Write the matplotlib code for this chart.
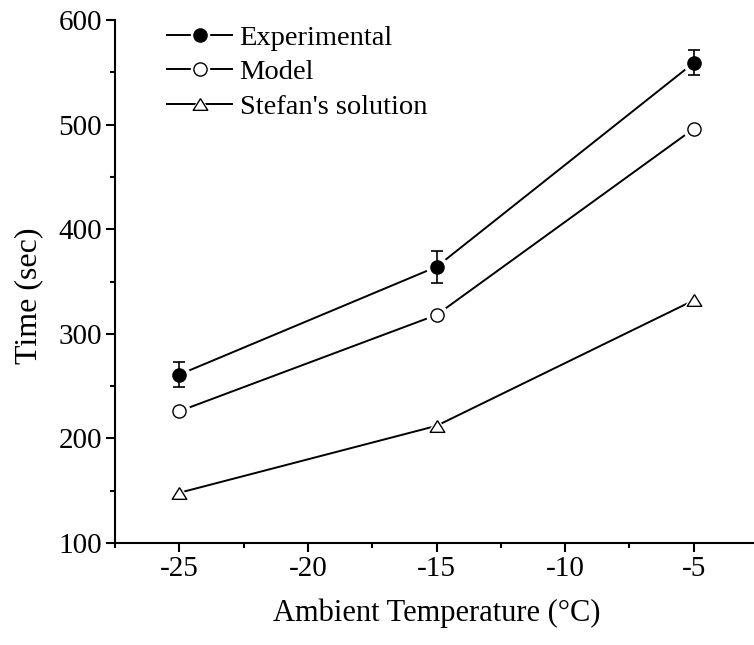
import matplotlib
matplotlib.use("Agg")
import matplotlib.pyplot as plt
from matplotlib.lines import Line2D
from matplotlib.ticker import MultipleLocator
from matplotlib.legend_handler import HandlerTuple

plt.rcParams['font.family'] = ['Liberation Serif', 'DejaVu Serif']
plt.rcParams['axes.unicode_minus'] = False

temperature = [-25, -15, -5]
experimental = [261, 364, 559]
experimental_err = [12, 15, 12]
model = [226, 318, 496]
stefan = [148, 212, 332]

x_ticks = [-25, -20, -15, -10, -5]
y_ticks = [100, 200, 300, 400, 500, 600]

W, H = 754, 645
fig = plt.figure(figsize=(W / 100, H / 100), dpi=100)
ax = fig.add_axes([115 / W, 1 - 543 / H, (758 - 115) / W, (543 - 20) / H])

tri = [(0, 0.8), (-1, -0.8), (1, -0.8), (0, 0.8)]
lw = 1.4
ms = 9.5
halo_ms = 15

styles = [
    (experimental, 'o', 'black', ms),
    (model, 'o', 'white', ms),
    (stefan, tri, 'white', 10.5),
]
labels = ["Experimental", "Model", "Stefan's solution"]
handles = []
for (vals, mk, fc, size), lab in zip(styles, labels):
    ax.plot(temperature, vals, color='black', lw=lw, zorder=2, clip_on=False)
    ax.plot(temperature, vals, ls='none', marker=mk, ms=halo_ms, mfc='white', mec='white', zorder=3, clip_on=False)
    ax.plot(temperature, vals, ls='none', marker=mk, ms=size, mfc=fc, mec='black', mew=1.0, zorder=5, clip_on=False)
    h_line = Line2D([], [], color='black', lw=lw)
    h_halo = Line2D([], [], ls='none', marker=mk, ms=halo_ms - 2, mfc='white', mec='white')
    h_mk = Line2D([], [], ls='none', marker=mk, ms=size, mfc=fc, mec='black', mew=1.0)
    handles.append((h_line, h_halo, h_mk))

ax.errorbar(temperature, experimental, yerr=experimental_err, fmt='none', ecolor='black',
            elinewidth=1.2, capsize=4, capthick=1.2, zorder=4)

ax.set_xlim(-27.5, -2.5)
ax.set_ylim(100, 600)
ax.set_xticks(x_ticks)
ax.set_yticks(y_ticks)
ax.xaxis.set_minor_locator(MultipleLocator(2.5))
ax.yaxis.set_minor_locator(MultipleLocator(50))

for s in ['top', 'right']:
    ax.spines[s].set_visible(False)
for s in ['left', 'bottom']:
    ax.spines[s].set_linewidth(1.5)

ax.tick_params(which='major', direction='out', length=6.5, width=1.5, labelsize=21, pad=3)
ax.tick_params(which='minor', direction='out', length=3.5, width=1.5)

ax.set_xlabel("Ambient Temperature (°C)", fontsize=22, labelpad=12)
ax.set_ylabel("Time (sec)", fontsize=23)
ax.yaxis.set_label_coords(-0.112, 0.472)

leg = ax.legend(handles, labels, handler_map={tuple: HandlerTuple(ndivide=1)},
                loc='upper left', bbox_to_anchor=(167 / W, 1 - 25 / H), bbox_transform=fig.transFigure,
                frameon=False, fontsize=20.5, handlelength=2.3, handletextpad=0.25,
                labelspacing=0.3, borderpad=0, borderaxespad=0)

fig.savefig("out.png", dpi=100)
